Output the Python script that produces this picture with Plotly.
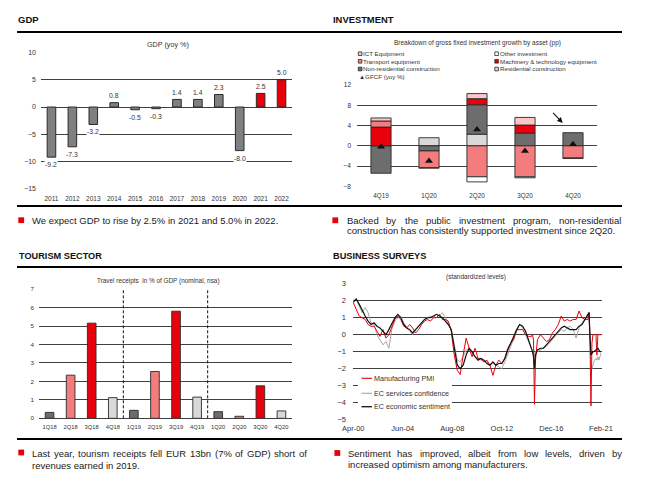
import plotly.graph_objects as go
import pandas as pd

W, H = 650, 479
def px(x): return x / W
def py(y): return 1 - y / H

FONT = "Liberation Sans, Arial, sans-serif"
RED = "#e8000b"; SALMON = "#f47c7c"; PINK = "#fbc6c6"
DGRAY = "#6d6d6d"; LGRAY = "#d9d9d9"; MGRAY = "#808080"
GRID = "#404040"; TXT = "#222222"; OUTL = "#2a2a2a"

# ---------------- GDP ----------------
gdp_years = ["2011", "2012", "2013", "2014", "2015", "2016", "2017", "2018", "2019", "2020", "2021", "2022"]
gdp_values = [-9.2, -7.3, -3.2, 0.8, -0.5, -0.3, 1.4, 1.4, 2.3, -8.0, 2.5, 5.0]
gdp_forecast = [False] * 10 + [True] * 2

# ---------------- Investment ----------------
inv_quarters = ["4Q19", "1Q20", "2Q20", "3Q20", "4Q20"]
inv_residential = [None, 1.6, 2.3, None, None]
inv_nonres = [-5.4, -1.0, 5.8, 2.5, 2.6]
inv_machinery = [3.7, None, 1.2, 1.6, None]
inv_transport = [1.2, -3.3, -6.1, -6.1, -2.4]
inv_ict = [0.6, None, 1.0, 1.5, None]
inv_other = [None, -0.1, -1.0, -0.2, -0.1]
inv_gfcf = [-0.2, -3.0, 3.2, -1.0, 0.3]

# ---------------- Tourism ----------------
tour_quarters = ["1Q18", "2Q18", "3Q18", "4Q18", "1Q19", "2Q19", "3Q19", "4Q19", "1Q20", "2Q20", "3Q20", "4Q20"]
tour_values = [0.32, 2.34, 5.16, 1.12, 0.43, 2.54, 5.81, 1.15, 0.36, 0.11, 1.76, 0.40]
tour_colors = [DGRAY, SALMON, RED, LGRAY] * 3

# ---------------- Business surveys (months after Apr-2000) ----------------
survey_months = [0, 3, 6, 9, 12, 15, 18, 21, 24, 27, 30, 33, 36, 39, 42, 45, 48, 51, 54, 57,
                 60, 63, 66, 69, 72, 75, 78, 81, 84, 87, 90, 93, 96, 99, 102, 105, 108, 111, 114, 117,
                 120, 123, 126, 129, 132, 135, 138, 141, 144, 147, 150, 153, 156, 159, 162, 165, 168, 171, 174, 177,
                 180, 181, 182, 183, 184, 186, 189, 192, 195, 198, 201, 204, 207, 210, 213, 216, 219, 222, 225, 228,
                 231, 234, 237, 238, 239, 240, 241, 242, 243, 245, 246, 247, 248, 249, 250]
pmi = [1.9, 1.5, 1.1, 1.0, 0.9, 0.6, 0.5, 0.5, 0.2, -0.1, 0.3, -0.2, 0.0, 0.5, 0.9, 1.1, 0.9, 0.5, 0.4, 0.6,
       0.4, 0.1, 0.3, 0.6, 0.8, 0.9, 0.8, 1.0, 1.0, 1.2, 0.9, 0.9, 0.8, 0.2, -1.2, -2.1, -2.35, -1.2, -0.2, -0.8,
       -1.3, -0.8, -1.4, -1.4, -1.6, -1.5, -1.8, -2.4, -1.8, -1.5, -1.7, -1.4, -0.8, -0.5, -0.3, 0.3, 0.3, 0.3, 0.0, -0.1,
       -0.1, 0.0, -0.3, -4.1, -1.5, -0.3, 0.0, -0.2, -0.4, -0.3, 0.1, 0.3, 0.6, 1.1, 0.8, 0.9, 0.8, 0.9, 0.9, 1.4,
       1.0, 0.9, 0.9, 1.3, -0.2, -4.2, -0.5, 0.0, 0.0, 0.0, -1.2, 0.0, 0.0, 0.0, 0.0]
services = [2.0, 2.1, 1.7, 1.3, 1.6, 1.3, 0.7, 0.6, 0.0, -0.3, -0.6, -0.4, -0.8, 0.3, 0.8, 1.0, 1.1, 0.7, 0.4, 0.2,
            0.0, 0.3, 0.5, 0.7, 0.9, 1.0, 1.1, 1.0, 1.2, 1.1, 1.3, 1.0, 0.6, 0.3, -0.6, -1.5, -1.6, -1.3, -0.9, -0.8,
            -1.1, -1.3, -1.4, -1.5, -1.6, -1.6, -1.8, -1.7, -1.8, -1.9, -2.0, -1.6, -1.2, -0.7, -0.2, 0.2, 0.6, 0.4, 0.0, -0.4,
            -0.8, -0.9, -1.1, -1.3, -1.0, -1.0, -0.9, -0.8, -0.7, -0.5, -0.3, -0.1, 0.1, 0.3, 0.2, 0.4, 0.5, 0.3, -0.2, 0.4,
            0.7, 0.9, 1.2, 1.3, -0.3, -2.1, -2.0, -1.8, -1.6, -1.4, -1.5, -1.3, -1.5, -1.3, -1.1]
sentiment = [1.9, 2.1, 1.8, 1.4, 1.1, 0.8, 0.6, 0.7, 0.5, 0.4, 0.2, 0.0, 0.3, 0.7, 1.0, 1.2, 1.0, 0.6, 0.4, 0.3,
             0.1, 0.3, 0.5, 0.7, 0.9, 1.0, 1.0, 1.1, 1.2, 1.1, 1.0, 0.8, 0.6, 0.3, -0.8, -1.8, -2.0, -1.8, -1.2, -0.8,
             -1.0, -1.3, -1.5, -1.4, -1.5, -1.7, -1.8, -1.6, -1.8, -1.7, -1.7, -1.4, -0.9, -0.5, 0.0, 0.3, 0.6, 0.5, 0.2, -0.3,
             -0.8, -1.0, -1.3, -2.0, -1.2, -0.9, -0.8, -0.8, -0.6, -0.4, -0.2, 0.0, 0.2, 0.4, 0.5, 0.4, 0.3, 0.3, 0.3, 0.5,
             0.6, 0.9, 1.2, 1.3, 0.0, -1.2, -1.1, -1.0, -1.0, -0.9, -0.9, -0.8, -0.9, -1.0, -1.0]
survey_dates = [pd.Timestamp("2000-04-01") + pd.DateOffset(months=m) for m in survey_months]
survey_tickdates = ["2000-04-01", "2004-06-01", "2008-08-01", "2012-10-01", "2016-12-01", "2021-02-01"]
survey_ticktext = ["Apr-00", "Jun-04", "Aug-08", "Oct-12", "Dec-16", "Feb-21"]

fig = go.Figure()

# GDP bars
fig.add_trace(go.Bar(x=gdp_years, y=gdp_values, name="GDP (yoy %)",
                     marker=dict(color=[RED if f else MGRAY for f in gdp_forecast], line=dict(color=OUTL, width=1)),
                     width=0.41, xaxis="x", yaxis="y", showlegend=False))

# Investment stacked bars
inv_series = [("Residential construction", inv_residential, LGRAY),
              ("Non-residential construction", inv_nonres, DGRAY),
              ("Machinery & technology equipment", inv_machinery, RED),
              ("Transport equipment", inv_transport, SALMON),
              ("ICT Equipment", inv_ict, PINK),
              ("Other investment", inv_other, "#ffffff")]
for name, vals, col in inv_series:
    fig.add_trace(go.Bar(x=inv_quarters, y=vals, name=name, marker=dict(color=col, line=dict(color=OUTL, width=0.9)),
                         width=0.42, xaxis="x2", yaxis="y2", showlegend=False))
fig.add_trace(go.Scatter(x=inv_quarters, y=inv_gfcf, mode="markers", name="GFCF (yoy %)",
                         marker=dict(symbol="triangle-up", size=7, color="#111111"),
                         xaxis="x2", yaxis="y2", showlegend=False))

# Tourism bars
fig.add_trace(go.Bar(x=tour_quarters, y=tour_values, name="Travel receipts",
                     marker=dict(color=tour_colors, line=dict(color=OUTL, width=0.9)),
                     width=0.41, xaxis="x3", yaxis="y3", showlegend=False))

# Business surveys lines
fig.add_trace(go.Scatter(x=survey_dates, y=services, mode="lines", name="EC services confidence",
                         line=dict(color="#a6a6a6", width=1), xaxis="x4", yaxis="y4", showlegend=False))
fig.add_trace(go.Scatter(x=survey_dates, y=pmi, mode="lines", name="Manufacturing PMI",
                         line=dict(color=RED, width=1), xaxis="x4", yaxis="y4", showlegend=False))
fig.add_trace(go.Scatter(x=survey_dates, y=sentiment, mode="lines", name="EC economic sentiment",
                         line=dict(color="#111111", width=1.2), xaxis="x4", yaxis="y4", showlegend=False))

tick_common = dict(ticks="", showline=False, zeroline=False, color="#333333", automargin=False)
grid_y = dict(showgrid=True, gridcolor=GRID, gridwidth=1, zeroline=True, zerolinecolor=GRID, zerolinewidth=1,
              ticks="", showline=False, color="#333333", automargin=False)

fig.update_layout(
    autosize=True, margin=dict(l=0, r=0, t=0, b=0, autoexpand=False),
    paper_bgcolor="white", plot_bgcolor="white", barmode="relative",
    font=dict(family=FONT, color=TXT),
    xaxis=dict(domain=[px(41), px(292)], anchor="y", type="category", range=[-0.5, len(gdp_years) - 0.5],
               showgrid=False, tickfont=dict(size=6.5), ticklabelstandoff=4, **tick_common),
    yaxis=dict(domain=[py(189), py(52.3)], anchor="x", range=[-15.05, 10.05], dtick=5, tickfont=dict(size=7),
               ticklabelstandoff=4, **grid_y),
    xaxis2=dict(domain=[px(357), px(597)], anchor="y2", type="category", range=[-0.5, len(inv_quarters) - 0.5],
                showgrid=False, tickfont=dict(size=6.3), ticklabelstandoff=4, **tick_common),
    yaxis2=dict(domain=[py(186.7), py(84.7)], anchor="x2", range=[-8.05, 12.05], dtick=4, tickfont=dict(size=6.5),
                ticklabelstandoff=5, **grid_y),
    xaxis3=dict(domain=[px(39), px(292)], anchor="y3", type="category", range=[-0.5, len(tour_quarters) - 0.5],
                showgrid=False, tickfont=dict(size=5.8), ticklabelstandoff=4, **tick_common),
    yaxis3=dict(domain=[py(418.3), py(288.7)], anchor="x3", range=[0, 7.03], dtick=1, tickfont=dict(size=6.2),
                ticklabelstandoff=4, **grid_y),
    xaxis4=dict(domain=[px(353), px(601.7)], anchor="y4", type="date", showgrid=False,
                range=["2000-03-25", "2021-02-25"], tickvals=survey_tickdates, ticktext=survey_ticktext,
                tickfont=dict(size=7.5), ticklabelstandoff=2, **tick_common),
    yaxis4=dict(domain=[py(420), py(283.3)], anchor="x4", range=[-5.03, 3.03], dtick=1, tickfont=dict(size=7.5),
                ticklabelstandoff=6, showgrid=True, gridcolor=GRID, gridwidth=1.3, zeroline=True,
                zerolinecolor=GRID, zerolinewidth=1.3, ticks="", showline=False, color="#333333", automargin=False),
)

shapes = []
ann = []

# Section separator lines
for yy in (32, 206, 267, 439):
    shapes.append(dict(type="line", xref="paper", yref="paper", x0=px(17), x1=px(622), y0=py(yy), y1=py(yy),
                       line=dict(color="#000000", width=2)))

# Red bullet squares
for cx, cy in ((21.2, 220.2), (335.3, 220.3), (21.2, 452.5), (337.3, 453)):
    shapes.append(dict(type="rect", xref="paper", yref="paper", x0=px(cx - 2.9), x1=px(cx + 2.9),
                       y0=py(cy + 2.9), y1=py(cy - 2.9), fillcolor=RED, line=dict(width=0)))

# Tourism year separators
for xv in (3.5, 7.5):
    shapes.append(dict(type="line", xref="x3", yref="y3", x0=xv, x1=xv, y0=0, y1=7,
                       line=dict(color="#111111", width=1, dash="3px,2px")))

def text(x, y, s, size, anchor="left", bold=False, color=TXT):
    ann.append(dict(xref="paper", yref="paper", x=px(x), y=py(y), text=("<b>%s</b>" % s) if bold else s,
                    showarrow=False, xanchor=anchor, yanchor="middle", borderpad=0,
                    font=dict(size=size, color=color, family=FONT)))

# Section titles
text(16.5, 19.5, "GDP", 9.5, bold=True, color="#111111")
text(331.5, 19.5, "INVESTMENT", 9.4, bold=True, color="#111111")
text(17.5, 255.7, "TOURISM SECTOR", 9.2, bold=True, color="#111111")
text(331.5, 255.7, "BUSINESS SURVEYS", 9.2, bold=True, color="#111111")

# Chart subtitles
text(168, 44.5, "GDP (yoy %)", 7.2, anchor="center", color="#333333")
text(477, 42.7, "Breakdown of gross fixed investment growth by asset (pp)", 6.5, anchor="center", color="#333333")
text(158, 281.3, "Travel receipts  in % of GDP (nominal, nsa)", 6.4, anchor="center", color="#333333")
text(476, 277, "(standardized levels)", 6.5, anchor="center", color="#333333")

# Arial width table (per 1000 em) for justified caption lines
AW = {" ": 278, ",": 278, ".": 278, "-": 333, "(": 333, ")": 333, "%": 889}
AW.update({d: 556 for d in "0123456789"})
AW.update(dict(A=667, B=667, C=722, D=722, E=667, F=611, G=778, H=722, I=278, J=500, K=667, L=556, M=833,
               N=722, O=778, P=667, Q=778, R=722, S=667, T=611, U=722, V=667, W=944, X=667, Y=667, Z=611))
AW.update(dict(a=556, b=556, c=500, d=556, e=556, f=278, g=556, h=556, i=222, j=222, k=500, l=222, m=833,
               n=556, o=556, p=556, q=556, r=333, s=500, t=278, u=556, v=500, w=722, x=500, y=500, z=500))

def justify(line, x0, x1, y, size):
    words = line.split(" ")
    widths = [sum(AW.get(ch, 556) for ch in w) / 1000 * size for w in words]
    gap = (x1 - x0 - sum(widths)) / (len(words) - 1)
    x = x0
    for w, wd in zip(words, widths):
        text(x, y, w, size)
        x += wd + gap

CAP = 9.5
# Captions
text(31, 220.5, "We expect GDP to rise by 2.5% in 2021 and 5.0% in 2022.", CAP)
justify("Backed by the public investment program, non-residential", 345.7, 620, 220.5, CAP)
text(345.7, 230.5, "construction has consistently supported investment since 2Q20.", CAP)
justify("Last year, tourism receipts fell EUR 13bn (7% of GDP) short of", 31, 306, 453.8, CAP)
text(31, 465, "revenues earned in 2019.", CAP)
justify("Sentiment has improved, albeit from low levels, driven by", 346.7, 621, 453.8, CAP)
text(346.7, 464.5, "increased optimism among manufacturers.", CAP)

# GDP value labels (x given as category index)
for i, v in enumerate(gdp_values):
    ann.append(dict(xref="x", yref="y", x=i, y=v, text="%.1f" % v, showarrow=False,
                    yshift=7 if v > 0 else -7.5, yanchor="middle", bgcolor="white", borderpad=0,
                    font=dict(size=6.8, color="#333333", family=FONT)))

# Investment legend (drawn)
inv_legend = [(358.3, 53.7, PINK, "ICT Equipment"), (358.3, 61.3, SALMON, "Transport equipment"),
              (358.3, 69.0, DGRAY, "Non-residential construction"),
              (494.8, 53.7, "#ffffff", "Other investment"), (494.8, 61.3, RED, "Machinery & technology equipment"),
              (494.8, 69.0, LGRAY, "Residential construction")]
for lx, ly, col, lab in inv_legend:
    shapes.append(dict(type="rect", xref="paper", yref="paper", x0=px(lx), x1=px(lx + 3.6),
                       y0=py(ly + 1.8), y1=py(ly - 1.8), fillcolor=col, line=dict(color=OUTL, width=0.8)))
    text(lx + 4, ly, lab, 6.2, color="#333333")
text(357.6, 76.3, "▲GFCF (yoy %)", 6.2, color="#333333")

# Arrow pointing at 4Q20
ann.append(dict(xref="x2", yref="y2", x=3.785, y=4.5, ax=-11, ay=-11.7, showarrow=True, arrowhead=2,
                arrowsize=1, arrowwidth=1.1, arrowcolor="#111111", text=""))

# Business surveys legend (drawn over the grid)
shapes.append(dict(type="rect", xref="paper", yref="paper", x0=px(358), x1=px(452), y0=py(412.5), y1=py(371.5),
                   fillcolor="white", line=dict(width=0), layer="above"))
for ly, col, lab, wd in ((378.3, RED, "Manufacturing PMI", 1.1), (393.3, "#a6a6a6", "EC services confidence", 1.1),
                         (406.7, "#111111", "EC economic sentiment", 1.3)):
    shapes.append(dict(type="line", xref="paper", yref="paper", x0=px(361.5), x1=px(372), y0=py(ly), y1=py(ly),
                       line=dict(color=col, width=wd), layer="above"))
    text(372.5, ly, lab, 7.2, color="#333333")

fig.update_layout(shapes=shapes, annotations=ann)

fill_page = ("var d=document.documentElement,b=document.body;"
             "d.style.margin='0';d.style.padding='0';d.style.height='100%';d.style.overflow='hidden';"
             "b.style.margin='0';b.style.padding='0';b.style.height='100%';b.style.overflow='hidden';"
             "var g=document.getElementById('{plot_id}');g.style.width='100vw';g.style.height='100vh';"
             "Plotly.Plots.resize(g);")
fig.write_html("out.html", config={"displayModeBar": False, "responsive": True},
               default_width="100%", default_height="100%", post_script=fill_page)
